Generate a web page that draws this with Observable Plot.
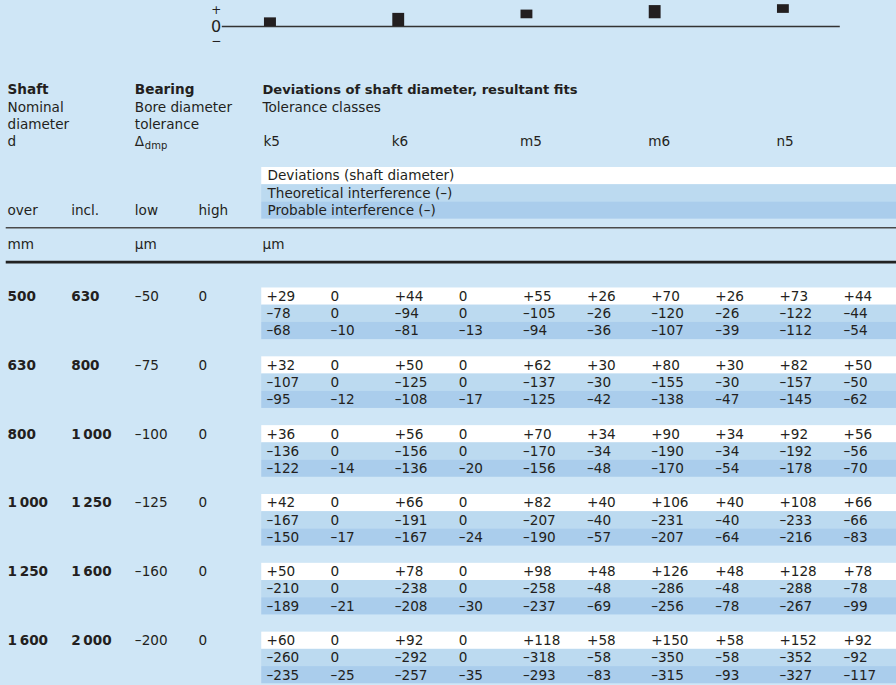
<!DOCTYPE html>
<html><head><meta charset="utf-8">
<script src="https://cdn.jsdelivr.net/npm/d3@7"></script>
<script src="https://cdn.jsdelivr.net/npm/@observablehq/plot@0.6"></script>
<style>
html,body{margin:0;padding:0;background:#cfe6f6;overflow:hidden;}
#chart{width:896px;}
#chart svg{display:block;}
</style></head><body><div id="chart"></div>
<script>
// ---- data ----
const classes = ["k5", "k6", "m5", "m6", "n5"];
const over = [500, 630, 800, 1000, 1250, 1600];
const incl = [630, 800, 1000, 1250, 1600, 2000];
const boreLow = [-50, -75, -100, -125, -160, -200];
const boreHigh = [0, 0, 0, 0, 0, 0];
// per size range: [upper dev, lower dev, theoretical (max, min), probable (max, min)]
const k5 = [[29,0,-78,0,-68,-10],[32,0,-107,0,-95,-12],[36,0,-136,0,-122,-14],[42,0,-167,0,-150,-17],[50,0,-210,0,-189,-21],[60,0,-260,0,-235,-25]];
const k6 = [[44,0,-94,0,-81,-13],[50,0,-125,0,-108,-17],[56,0,-156,0,-136,-20],[66,0,-191,0,-167,-24],[78,0,-238,0,-208,-30],[92,0,-292,0,-257,-35]];
const m5 = [[55,26,-105,-26,-94,-36],[62,30,-137,-30,-125,-42],[70,34,-170,-34,-156,-48],[82,40,-207,-40,-190,-57],[98,48,-258,-48,-237,-69],[118,58,-318,-58,-293,-83]];
const m6 = [[70,26,-120,-26,-107,-39],[80,30,-155,-30,-138,-47],[90,34,-190,-34,-170,-54],[106,40,-231,-40,-207,-64],[126,48,-286,-48,-256,-78],[150,58,-350,-58,-315,-93]];
const n5 = [[73,44,-122,-44,-112,-54],[82,50,-157,-50,-145,-62],[92,56,-192,-56,-178,-70],[108,66,-233,-66,-216,-83],[128,78,-288,-78,-267,-99],[152,92,-352,-92,-327,-117]];
const legendLabels = ["Deviations (shaft diameter)", "Theoretical interference (–)", "Probable interference (–)"];
const shaftHeader = ["Shaft", "Nominal", "diameter", "d"];
const bearingHeader = ["Bearing", "Bore diameter", "tolerance"];
const fitsHeader = ["Deviations of shaft diameter, resultant fits", "Tolerance classes"];
const limitLabels = ["over", "incl.", "low", "high"];
const unitLabels = ["mm", "µm", "µm"];
const signLabels = ["+", "0", "−"];

// ---- helpers ----
const classData = [k5, k6, m5, m6, n5];
function fmt(n, signed) {
  const a = String(Math.abs(n));
  const t = a.length > 3 ? a.slice(0, -3) + "\u2009" + a.slice(-3) : a;
  return (n < 0 ? "–" : (n > 0 && signed ? "+" : "")) + t;
}
const ink = "#231f20";
const bgWhite = "#ffffff", bgMid = "#bcdaf0", bgDark = "#aacdec";
const xScale = {type: "linear", domain: [0, 3, 4, 13], range: [7, 198, 266, 843], axis: null};
const font = {background: "transparent", fontFamily: "DejaVu Sans", fontSize: "13.6px"};

// ---- top diagram ----
const diagData = classes.map((c, i) => ({col: 4 + 2 * i, lo: classData[i][0][1], hi: classData[i][0][0]}));
const signData = signLabels.map((s, i) => ({s, v: [56, 0, -50][i]}));
const diag = Plot.plot({
  width: 896, height: 50, margin: 0,
  x: xScale,
  y: {domain: [-80, 87], range: [50, 0], axis: null},
  style: font,
  marks: [
    Plot.ruleY([0], {x1: 3.35, x2: 12.95, stroke: "#333", strokeWidth: 1.6}),
    Plot.rect(diagData, {x1: d => d.col - 0.03, x2: d => d.col + 0.155, y1: "lo", y2: "hi", fill: ink}),
    Plot.text(signData.filter(d => d.s !== "0"), {x: 3.26, y: "v", text: "s", fill: ink, fontSize: 12}),
    Plot.text(signData.filter(d => d.s === "0"), {x: 3.26, y: "v", text: "s", fill: ink, fontSize: 16})
  ]
});

// ---- table ----
const bands = [];
[bgWhite, bgMid, bgDark].forEach((f, r) => bands.push({u: -7 + r, fill: f}));
over.forEach((_, g) => [bgWhite, bgMid, bgDark].forEach((f, r) => bands.push({u: 4 * g + r, fill: f})));

const boldCells = [], normalCells = [];
over.forEach((v, g) => {
  boldCells.push({col: 0, u: 4 * g, text: fmt(v)});
  boldCells.push({col: 1, u: 4 * g, text: fmt(incl[g])});
  normalCells.push({col: 2, u: 4 * g, text: fmt(boreLow[g])});
  normalCells.push({col: 3, u: 4 * g, text: fmt(boreHigh[g])});
  classData.forEach((arr, c) => {
    const vals = arr[g];
    for (let r = 0; r < 3; r++) {
      normalCells.push({col: 4 + 2 * c, u: 4 * g + r, text: fmt(vals[2 * r], true)});
      normalCells.push({col: 5 + 2 * c, u: 4 * g + r, text: fmt(vals[2 * r + 1], true)});
    }
  });
});

const headerBold = [
  {col: 0, u: -12, text: shaftHeader[0]},
  {col: 2, u: -12, text: bearingHeader[0]}
];
const titleBold = [{col: 4, u: -12, text: fitsHeader[0]}];
const headerNormal = [];
shaftHeader.slice(1).forEach((t, i) => headerNormal.push({col: 0, u: -11 + i, text: t, dx: 0}));
bearingHeader.slice(1).forEach((t, i) => headerNormal.push({col: 2, u: -11 + i, text: t, dx: 0}));
headerNormal.push({col: 2, u: -9, text: "Δ", dx: 0});
headerNormal.push({col: 4, u: -11, text: fitsHeader[1], dx: -4});
classes.forEach((c, i) => headerNormal.push({col: 4 + 2 * i, u: -9, text: c, dx: -3}));
limitLabels.forEach((t, i) => headerNormal.push({col: i, u: -5, text: t, dx: 0}));
legendLabels.forEach((t, i) => headerNormal.push({col: 4, u: -7 + i, text: t, dx: 1}));
unitLabels.forEach((t, i) => headerNormal.push({col: 2 * i, u: -3, text: t, dx: i === 2 ? -4 : 0}));

const table = Plot.plot({
  width: 896, height: 635, margin: 0,
  x: xScale,
  y: {domain: [-14.3, 22.6], range: [0, 635], axis: null},
  style: font,
  marks: [
    Plot.rect(bands.filter(d => d.fill === bgWhite), {x1: 3.93, x2: 14, y1: d => d.u - 0.5, y2: d => d.u + 0.5, fill: bgWhite}),
    Plot.rect(bands.filter(d => d.fill === bgMid), {x1: 3.93, x2: 14, y1: d => d.u - 0.5, y2: d => d.u + 0.5, fill: bgMid}),
    Plot.rect(bands.filter(d => d.fill === bgDark), {x1: 3.93, x2: 14, y1: d => d.u - 0.5, y2: d => d.u + 0.5, fill: bgDark}),
    Plot.ruleY([-4], {x1: -0.02, x2: 14, stroke: "#4a4a4a", strokeWidth: 1.4}),
    Plot.ruleY([-2], {x1: -0.02, x2: 14, stroke: "#222", strokeWidth: 2.6}),
    Plot.text(headerBold, {x: "col", y: "u", text: "text", textAnchor: "start", fontWeight: "bold", fill: ink}),
    Plot.text(titleBold, {x: "col", y: "u", text: "text", textAnchor: "start", fontWeight: "bold", fill: ink, dx: -4, fontSize: 13.1}),
    Plot.text(headerNormal.filter(d => d.dx === 0), {x: "col", y: "u", text: "text", textAnchor: "start", fill: ink}),
    Plot.text(headerNormal.filter(d => d.dx === 1), {x: "col", y: "u", text: "text", textAnchor: "start", fill: ink, dx: 1}),
    Plot.text(headerNormal.filter(d => d.dx === -3), {x: "col", y: "u", text: "text", textAnchor: "start", fill: ink, dx: -3}),
    Plot.text(headerNormal.filter(d => d.dx === -4), {x: "col", y: "u", text: "text", textAnchor: "start", fill: ink, dx: -4}),
    Plot.text([{col: 2, u: -9, text: "dmp"}], {x: "col", y: "u", text: "text", textAnchor: "start", fill: ink, dx: 10, dy: 4, fontSize: 10}),
    Plot.text(boldCells, {x: "col", y: "u", text: "text", textAnchor: "start", fontWeight: "bold", fill: ink}),
    Plot.text(normalCells, {x: "col", y: "u", text: "text", textAnchor: "start", fill: ink})
  ]
});
document.getElementById("chart").append(diag, table);
</script></body></html>
